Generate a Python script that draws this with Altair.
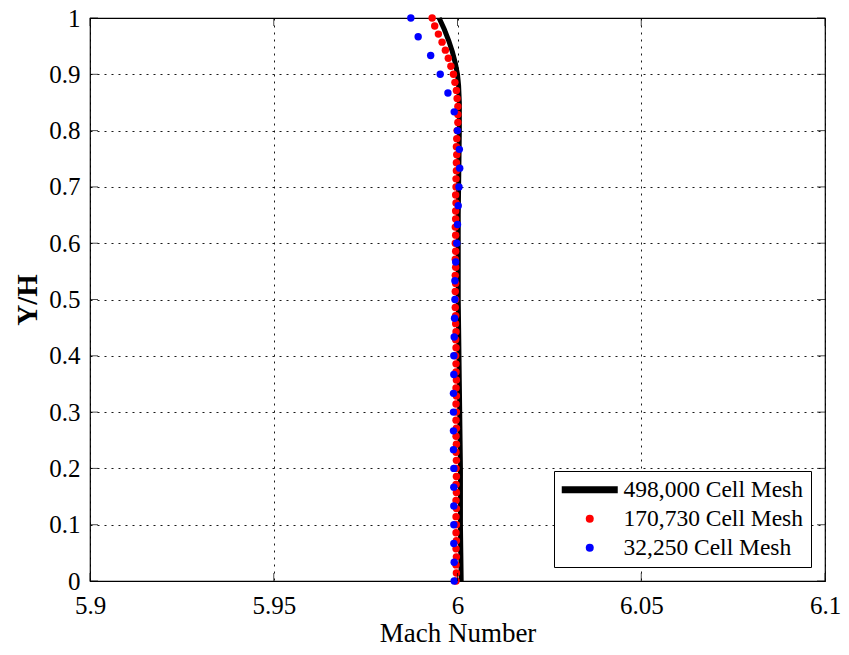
import altair as alt
import pandas as pd

# ---- data ----
series_names = ["498,000 Cell Mesh", "170,730 Cell Mesh", "32,250 Cell Mesh"]
series_colors = ["black", "red", "blue"]

fine_y = [1.0, 0.98, 0.96, 0.94, 0.92, 0.9, 0.88, 0.85, 0.8, 0.75, 0.7, 0.65, 0.6,
          0.55, 0.5, 0.45, 0.4, 0.35, 0.3, 0.25, 0.2, 0.15, 0.1, 0.05, 0.0]
fine_mach = [5.9950, 5.9964, 5.9976, 5.9986, 5.9994, 6.0000, 6.0003, 6.0005, 6.0005,
             6.0004, 6.0003, 6.0002, 6.0002, 6.0002, 6.0002, 6.0003, 6.0004, 6.0005,
             6.0006, 6.0007, 6.0008, 6.0008, 6.0008, 6.0009, 6.0010]

mid_y = [1.0, 0.9857, 0.9714, 0.9571, 0.9429, 0.9286, 0.9143, 0.9, 0.8857, 0.8714,
         0.8571, 0.8429, 0.8286, 0.8143, 0.8, 0.7857, 0.7714, 0.7571, 0.7429, 0.7286,
         0.7143, 0.7, 0.6857, 0.6714, 0.6571, 0.6429, 0.6286, 0.6143, 0.6, 0.5857,
         0.5714, 0.5571, 0.5429, 0.5286, 0.5143, 0.5, 0.4857, 0.4714, 0.4571, 0.4429,
         0.4286, 0.4143, 0.4, 0.3857, 0.3714, 0.3571, 0.3429, 0.3286, 0.3143, 0.3,
         0.2857, 0.2714, 0.2571, 0.2429, 0.2286, 0.2143, 0.2, 0.1857, 0.1714, 0.1571,
         0.1429, 0.1286, 0.1143, 0.1, 0.0857, 0.0714, 0.0571, 0.0429, 0.0286, 0.0143, 0.0]
mid_mach = [5.9931, 5.9938, 5.9948, 5.9958, 5.9967, 5.9975, 5.9982, 5.9989, 5.9993, 5.9997,
            5.9999, 6.0001, 6.0001, 6.0001, 5.9999,
            5.9998, 5.9997, 5.9998, 5.9997, 5.9997, 5.9996,
            5.9996, 5.9995, 5.9996, 5.9995, 5.9995, 5.9994, 5.9995, 5.9994, 5.9995, 5.9994,
            5.9995, 5.9994, 5.9995, 5.9994, 5.9995, 5.9994, 5.9995, 5.9995, 5.9996, 5.9995,
            5.9996, 5.9995, 5.9996, 5.9996, 5.9997,
            5.9996, 5.9997, 5.9996, 5.9997, 5.9996, 5.9997, 5.9996, 5.9997, 5.9996, 5.9997,
            5.9996, 5.9997, 5.9996, 5.9997, 5.9996,
            5.9997, 5.9996, 5.9997, 5.9996, 5.9997, 5.9996, 5.9997, 5.9996, 5.9997, 5.9996]

coarse_y = [1.0, 0.9667, 0.9333, 0.9, 0.8667, 0.8333, 0.8, 0.7667, 0.7333, 0.7, 0.6667,
            0.6333, 0.6, 0.5667, 0.5333, 0.5, 0.4667, 0.4333, 0.4, 0.3667, 0.3333, 0.3,
            0.2667, 0.2333, 0.2, 0.1667, 0.1333, 0.1, 0.0667, 0.0333, 0.0]
coarse_mach = [5.9873, 5.9893, 5.9927, 5.9953, 5.9974, 5.9991, 6.0000, 6.0005, 6.0006,
               6.0004, 6.0002, 6.0000, 5.9998, 5.9995, 5.9993, 5.9993, 5.9992, 5.9991,
               5.9990, 5.9990, 5.9989, 5.9989, 5.9989, 5.9989, 5.9990, 5.9990, 5.9990,
               5.9990, 5.9990, 5.9991, 5.9991]

x_ticks = [5.9, 5.95, 6.0, 6.05, 6.1]
y_ticks = [0, 0.1, 0.2, 0.3, 0.4, 0.5, 0.6, 0.7, 0.8, 0.9, 1.0]

# ---- tables ----
line_df = pd.DataFrame({"mach": fine_mach, "yh": fine_y})
pts_df = pd.concat([
    pd.DataFrame({"mach": mid_mach, "yh": mid_y, "series": series_names[1]}),
    pd.DataFrame({"mach": coarse_mach, "yh": coarse_y, "series": series_names[2]}),
], ignore_index=True)
xt_df = pd.DataFrame({"mach": x_ticks})
yt_df = pd.DataFrame({"yh": y_ticks})

FONT = "Liberation Serif"
W, H = 735, 563

xscale = alt.Scale(domain=[5.9, 6.1], nice=False, zero=False)
yscale = alt.Scale(domain=[0, 1], nice=False, zero=False)

# legend glyph for the thick line entry (unit-scaled SVG path), circles for the others
line_glyph = "M-7,-0.85L7,-0.85L7,0.85L-7,0.85Z"

legend = alt.Legend(
    title=None, orient="bottom-right", offset=14,
    labelFont=FONT, labelFontSize=23.5, labelColor="black",
    symbolSize=64, symbolStrokeWidth=0, symbolOpacity=1, symbolOffset=17,
    labelOffset=22, labelLimit=400,
)
color = alt.Color("series:N", scale=alt.Scale(domain=series_names, range=series_colors),
                  legend=legend)
shape = alt.Shape("series:N",
                  scale=alt.Scale(domain=series_names, range=[line_glyph, "circle", "circle"]),
                  legend=legend)

x_axis = alt.Axis(title="Mach Number", values=x_ticks, format="~g", grid=True,
                  gridDash=[2, 5], gridColor="black", gridOpacity=0.9, ticks=False,
                  tickSize=0, domain=False, labelFont=FONT, labelFontSize=25,
                  labelColor="black", labelPadding=12, titleFont=FONT, titleFontSize=27,
                  titleFontWeight="normal", titleColor="black", titlePadding=2,
                  labelFlush=False)
y_axis = alt.Axis(title="Y/H", values=y_ticks, format="~g", grid=True,
                  gridDash=[2, 5], gridColor="black", gridOpacity=0.9, ticks=False,
                  tickSize=0, domain=False, labelFont=FONT, labelFontSize=25,
                  labelColor="black", labelPadding=10, titleFont=FONT, titleFontSize=29,
                  titleFontWeight="bold", titleColor="black", titlePadding=6,
                  labelFlush=False)

line = alt.Chart(line_df).mark_line(strokeWidth=5, color="black").encode(
    x=alt.X("mach:Q", scale=xscale, axis=x_axis),
    y=alt.Y("yh:Q", scale=yscale, axis=y_axis),
    order=alt.Order("yh:Q", sort="ascending"),
)
points = alt.Chart(pts_df).mark_point(filled=True, size=55, opacity=1).encode(
    x=alt.X("mach:Q", scale=xscale, axis=x_axis),
    y=alt.Y("yh:Q", scale=yscale, axis=y_axis),
    color=color,
    shape=shape,
)

tick_style = dict(color="black", thickness=1, size=8)
bottom_ticks = alt.Chart(xt_df).mark_tick(orient="vertical", **tick_style).encode(
    x=alt.X("mach:Q", scale=xscale, axis=x_axis), y=alt.value(H - 4))
top_ticks = alt.Chart(xt_df).mark_tick(orient="vertical", **tick_style).encode(
    x=alt.X("mach:Q", scale=xscale, axis=x_axis), y=alt.value(4))
left_ticks = alt.Chart(yt_df).mark_tick(orient="horizontal", **tick_style).encode(
    y=alt.Y("yh:Q", scale=yscale, axis=y_axis), x=alt.value(4))
right_ticks = alt.Chart(yt_df).mark_tick(orient="horizontal", **tick_style).encode(
    y=alt.Y("yh:Q", scale=yscale, axis=y_axis), x=alt.value(W - 4))

chart = alt.layer(
    line, points, bottom_ticks, top_ticks, left_ticks, right_ticks
).properties(
    width=W, height=H,
    autosize=alt.AutoSizeParams(type="none"),
    padding={"left": 82, "top": 10, "right": 16, "bottom": 66},
    background="white",
).configure_view(
    stroke="black", strokeWidth=1.2
).configure_legend(
    fillColor="white", strokeColor="black", strokeWidth=1, padding=7, rowPadding=4,
)

chart.save("out.html", embed_options={"renderer": "svg", "actions": False})
